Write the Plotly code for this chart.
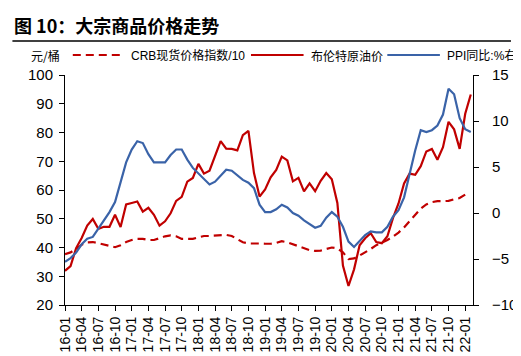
import plotly.graph_objects as go

# ---- data (monthly, 2016-01 .. 2022-02) ----
months = ["16-01","16-02","16-03","16-04","16-05","16-06","16-07","16-08","16-09","16-10","16-11","16-12",
          "17-01","17-02","17-03","17-04","17-05","17-06","17-07","17-08","17-09","17-10","17-11","17-12",
          "18-01","18-02","18-03","18-04","18-05","18-06","18-07","18-08","18-09","18-10","18-11","18-12",
          "19-01","19-02","19-03","19-04","19-05","19-06","19-07","19-08","19-09","19-10","19-11","19-12",
          "20-01","20-02","20-03","20-04","20-05","20-06","20-07","20-08","20-09","20-10","20-11","20-12",
          "21-01","21-02","21-03","21-04","21-05","21-06","21-07","21-08","21-09","21-10","21-11","21-12",
          "22-01","22-02"]

crb_div10 = [37.7, 38.3, 39.5, 41.0, 41.8, 41.9, 41.5, 41.1, 40.6, 40.1, 40.8, 41.9,
             42.6, 43.0, 43.0, 42.6, 42.6, 43.3, 43.9, 44.2, 43.9, 43.0, 42.9, 43.0,
             43.5, 44.0, 44.0, 44.2, 44.4, 44.4, 44.0, 42.8, 41.8, 41.4, 41.5, 41.4,
             41.3, 41.3, 41.6, 42.2, 41.8, 41.1, 40.6, 39.8, 39.1, 38.8, 38.9, 39.5,
             40.0, 39.7, 38.3, 36.0, 36.2, 37.2, 38.3, 39.5, 40.8, 41.6, 42.6, 43.8,
             45.2, 47.0, 49.2, 51.5, 53.5, 55.0, 55.8, 56.1, 56.1, 56.2, 56.8, 57.2,
             58.4]

brent = [31.9, 33.5, 39.8, 43.3, 47.6, 49.9, 46.5, 47.2, 47.2, 51.4, 47.1, 55.0,
         55.5, 56.0, 52.5, 53.8, 51.4, 47.6, 49.1, 51.9, 56.2, 57.6, 62.9, 64.2,
         69.1, 65.7, 66.7, 71.6, 77.0, 74.4, 74.3, 73.8, 79.1, 80.6, 65.9, 57.7,
         60.2, 64.4, 67.0, 71.6, 70.3, 63.0, 64.2, 59.5, 62.3, 59.6, 63.2, 65.9,
         63.7, 55.5, 33.7, 26.6, 32.4, 40.8, 43.2, 45.0, 41.9, 41.5, 43.9, 50.2,
         55.3, 62.3, 65.7, 65.3, 68.3, 73.4, 74.3, 70.5, 74.9, 83.7, 81.1, 74.3,
         86.5, 93.2]

ppi_yoy = [-5.3, -4.9, -4.3, -3.4, -2.8, -2.6, -1.7, -0.8, 0.1, 1.2, 3.3, 5.5,
           6.9, 7.8, 7.6, 6.4, 5.5, 5.5, 5.5, 6.3, 6.9, 6.9, 5.8, 4.9,
           4.3, 3.7, 3.1, 3.4, 4.1, 4.7, 4.6, 4.1, 3.6, 3.3, 2.7, 0.9,
           0.1, 0.1, 0.4, 0.9, 0.6, 0.0, -0.3, -0.8, -1.2, -1.6, -1.4, -0.5,
           0.1, -0.4, -1.5, -3.1, -3.7, -3.0, -2.4, -2.0, -2.1, -2.1, -1.5, -0.4,
           0.3, 1.7, 4.4, 6.8, 9.0, 8.8, 9.0, 9.5, 10.7, 13.5, 12.9, 10.3,
           9.1, 8.8]

series_names = ["CRB现货价格指数/10", "布伦特原油价", "PPI同比:%右"]
unit_label = "元/桶"
title_text = "图 10：大宗商品价格走势"

# ---- layout geometry ----
W, H = 521, 356
L, R, T, B = 57, 476, 67, 297  # plot area in pixels

RED = "#C00000"
BLUE = "#3A63A8"
LATIN = "Liberation Sans, Arial, Noto Sans CJK SC"
CJK = "Noto Sans CJK SC, Liberation Sans"


def px_x(px):
    return (px - L) / (R - L)


def px_y(py):
    return (B - py) / (B - T)


x_crb = list(range(len(crb_div10)))
x_all = list(range(len(months)))

fig = go.Figure()
fig.add_trace(go.Scatter(x=x_crb, y=crb_div10, mode="lines", name=series_names[0],
                         line=dict(color=RED, width=2.2, dash="8px,5px"), yaxis="y"))
fig.add_trace(go.Scatter(x=x_all, y=brent, mode="lines", name=series_names[1],
                         line=dict(color=RED, width=2.2), yaxis="y"))
fig.add_trace(go.Scatter(x=x_all, y=ppi_yoy, mode="lines", name=series_names[2],
                         line=dict(color=BLUE, width=2.2), yaxis="y2"))

axis_common = dict(showline=True, linecolor="black", linewidth=1, ticks="outside",
                   ticklen=5, tickcolor="black", tickwidth=1, showgrid=False, zeroline=False)

fig.update_layout(
    width=W, height=H, autosize=False,
    margin=dict(l=L, r=W - R, t=T, b=H - B, pad=0),
    paper_bgcolor="white", plot_bgcolor="white",
    showlegend=False,
    xaxis=dict(range=[0, 73.4], tickmode="array", tickvals=x_all[::3], ticktext=months[::3],
               tickangle=-90, tickfont=dict(family=LATIN, size=14, color="black"),
               **axis_common),
    yaxis=dict(range=[20, 100], dtick=10, tickmode="linear", tick0=20, ticklabelstandoff=3,
               tickfont=dict(family=LATIN, size=15, color="black"), **axis_common),
    yaxis2=dict(range=[-10, 15], dtick=5, tickmode="linear", tick0=-10, overlaying="y",
                side="right", ticklabelstandoff=10,
                tickfont=dict(family=LATIN, size=15, color="black"), **axis_common),
)

shapes = []
# top and bottom rules
for py in (33, 353):
    shapes.append(dict(type="line", xref="paper", yref="paper",
                       x0=px_x(3), x1=px_x(515), y0=px_y(py), y1=px_y(py),
                       line=dict(color="black", width=1.5)))
# legend samples
ly = px_y(47)
shapes.append(dict(type="line", xref="paper", yref="paper", x0=px_x(65), x1=px_x(116),
                   y0=ly, y1=ly, line=dict(color=RED, width=2.2, dash="8px,5px")))
shapes.append(dict(type="line", xref="paper", yref="paper", x0=px_x(248), x1=px_x(302),
                   y0=ly, y1=ly, line=dict(color=RED, width=2.2)))
shapes.append(dict(type="line", xref="paper", yref="paper", x0=px_x(388), x1=px_x(442),
                   y0=ly, y1=ly, line=dict(color=BLUE, width=2.2)))

annotations = [
    dict(text="<b>" + title_text + "</b>", x=px_x(3), y=px_y(17), xref="paper", yref="paper",
         xanchor="left", yanchor="middle", showarrow=False,
         font=dict(family=CJK, size=18, color="black")),
    dict(text=unit_label, x=px_x(20), y=ly, xref="paper", yref="paper",
         xanchor="left", yanchor="middle", showarrow=False,
         font=dict(family=CJK, size=12, color="black")),
    dict(text=series_names[0], x=px_x(123), y=ly, xref="paper", yref="paper",
         xanchor="left", yanchor="middle", showarrow=False,
         font=dict(family=LATIN, size=12, color="black")),
    dict(text=series_names[1], x=px_x(308), y=ly, xref="paper", yref="paper",
         xanchor="left", yanchor="middle", showarrow=False,
         font=dict(family=CJK, size=12, color="black")),
    dict(text=series_names[2], x=px_x(447), y=ly, xref="paper", yref="paper",
         xanchor="left", yanchor="middle", showarrow=False,
         font=dict(family=LATIN, size=12, color="black")),
]

fig.update_layout(shapes=shapes, annotations=annotations)
fig.write_html("out.html")
